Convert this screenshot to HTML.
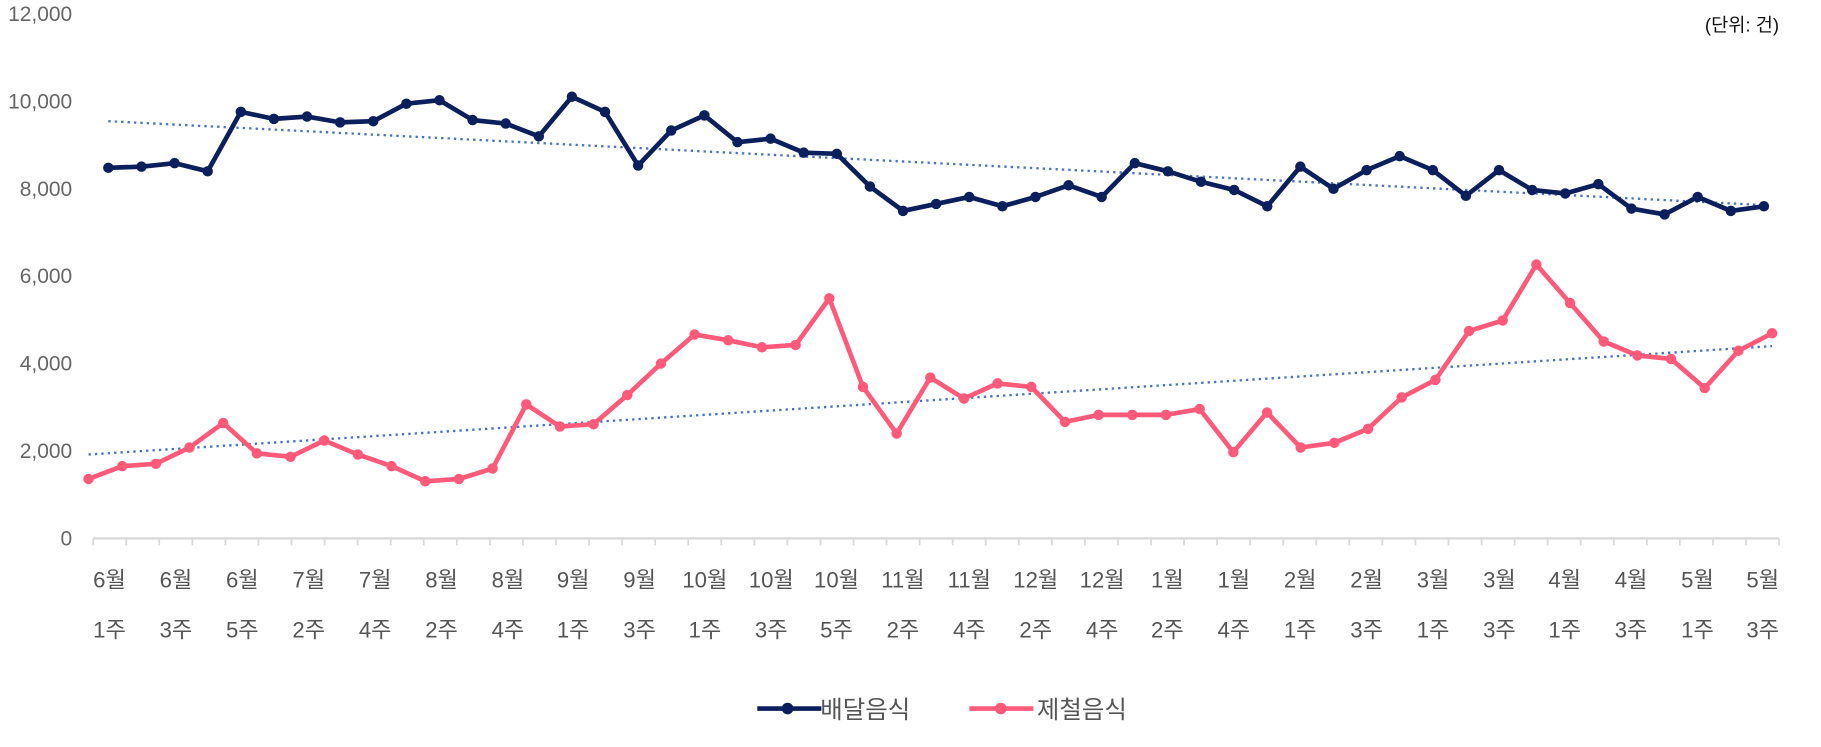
<!DOCTYPE html>
<html><head><meta charset="utf-8"><style>
html,body{margin:0;padding:0;background:#fff;}
svg{display:block;}
text{font-family:"Liberation Sans","Noto Sans CJK KR",sans-serif;}
</style></head><body>
<svg id="c" width="1821" height="747" viewBox="0 0 1563 641" preserveAspectRatio="none" xmlns="http://www.w3.org/2000/svg">
<g fill="#666" font-size="18" text-anchor="end">
<text x="62" y="18">12,000</text>
<text x="62" y="93">10,000</text>
<text x="62" y="168">8,000</text>
<text x="62" y="243">6,000</text>
<text x="62" y="318">4,000</text>
<text x="62" y="393">2,000</text>
<text x="62" y="468">0</text>
</g>
<text x="1527" y="27" font-size="16" text-anchor="end" fill="#111">(단위: 건)</text>
<line x1="80" y1="462" x2="1527" y2="462" stroke="#d9d9d9" stroke-width="2"/>
<g id="ticks" stroke="#d9d9d9" stroke-width="1.5"></g>
<g id="lbl" fill="#555" font-size="19" text-anchor="middle">
<text x="94" y="504">6월</text><text x="94" y="547">1주</text>
<text x="151" y="504">6월</text><text x="151" y="547">3주</text>
<text x="208" y="504">6월</text><text x="208" y="547">5주</text>
<text x="265" y="504">7월</text><text x="265" y="547">2주</text>
<text x="322" y="504">7월</text><text x="322" y="547">4주</text>
<text x="379" y="504">8월</text><text x="379" y="547">2주</text>
<text x="436" y="504">8월</text><text x="436" y="547">4주</text>
<text x="492" y="504">9월</text><text x="492" y="547">1주</text>
<text x="549" y="504">9월</text><text x="549" y="547">3주</text>
<text x="605" y="504">10월</text><text x="605" y="547">1주</text>
<text x="662" y="504">10월</text><text x="662" y="547">3주</text>
<text x="718" y="504">10월</text><text x="718" y="547">5주</text>
<text x="775" y="504">11월</text><text x="775" y="547">2주</text>
<text x="832" y="504">11월</text><text x="832" y="547">4주</text>
<text x="889" y="504">12월</text><text x="889" y="547">2주</text>
<text x="946" y="504">12월</text><text x="946" y="547">4주</text>
<text x="1002" y="504">1월</text><text x="1002" y="547">2주</text>
<text x="1059" y="504">1월</text><text x="1059" y="547">4주</text>
<text x="1116" y="504">2월</text><text x="1116" y="547">1주</text>
<text x="1173" y="504">2월</text><text x="1173" y="547">3주</text>
<text x="1230" y="504">3월</text><text x="1230" y="547">1주</text>
<text x="1287" y="504">3월</text><text x="1287" y="547">3주</text>
<text x="1343" y="504">4월</text><text x="1343" y="547">1주</text>
<text x="1400" y="504">4월</text><text x="1400" y="547">3주</text>
<text x="1457" y="504">5월</text><text x="1457" y="547">1주</text>
<text x="1513" y="504">5월</text><text x="1513" y="547">3주</text>
</g>
<line x1="93" y1="104" x2="1514" y2="176" stroke="#4472c4" stroke-width="2" stroke-dasharray="2,3.5"/>
<line x1="76" y1="390" x2="1521" y2="297" stroke="#4472c4" stroke-width="2" stroke-dasharray="2,3.5"/>
<g id="series"></g>
<line x1="650" y1="608" x2="705" y2="608" stroke="#0b1f5c" stroke-width="4"/>
<circle cx="676" cy="608" r="5" fill="#0b1f5c"/>
<text x="704" y="616" font-size="21" fill="#555">배달음식</text>
<line x1="832" y1="608" x2="887" y2="608" stroke="#ff5a7a" stroke-width="4"/>
<circle cx="859" cy="608" r="5" fill="#ff5a7a"/>
<text x="890" y="616" font-size="21" fill="#555">제철음식</text>
</svg>
<script>
var NS="http://www.w3.org/2000/svg";
var t=document.getElementById('ticks');
for(var i=0;i<=51;i++){var x=80+i*(1447/51);var l=document.createElementNS(NS,'line');l.setAttribute('x1',x);l.setAttribute('x2',x);l.setAttribute('y1',462);l.setAttribute('y2',468);t.appendChild(l);}
var ny=[144,143,140,147,96,102,100,105,104,89,86,103,106,117,83,96,142,112,99,122,119,131,132,160,181,175,169,177,169,159,169,140,147,156,163,177,143,162,146,134,146,168,146,163,166,158,179,184,169,181,177];
var py=[411,400,398,384,363,389,392,378,390,400,413,411,402,347,366,364,339,312,287,292,298,296,256,332,372,324,342,329,332,362,356,356,356,351,388,354,384,380,368,341,326,284,275,227,260,293,305,308,333,301,286];
var g=document.getElementById('series');
function draw(ys,x0,dx,col){var pts=[];for(var i=0;i<ys.length;i++)pts.push((x0+i*dx)+','+ys[i]);
var p=document.createElementNS(NS,'polyline');p.setAttribute('points',pts.join(' '));p.setAttribute('fill','none');p.setAttribute('stroke',col);p.setAttribute('stroke-width',4);p.setAttribute('stroke-linejoin','round');g.appendChild(p);
for(var i=0;i<ys.length;i++){var c=document.createElementNS(NS,'circle');c.setAttribute('cx',x0+i*dx);c.setAttribute('cy',ys[i]);c.setAttribute('r',4.5);c.setAttribute('fill',col);g.appendChild(c);}}
draw(py,76,(1521-76)/50,'#ff5a7a');
draw(ny,93,(1514-93)/50,'#0b1f5c');
</script>
</body></html>
